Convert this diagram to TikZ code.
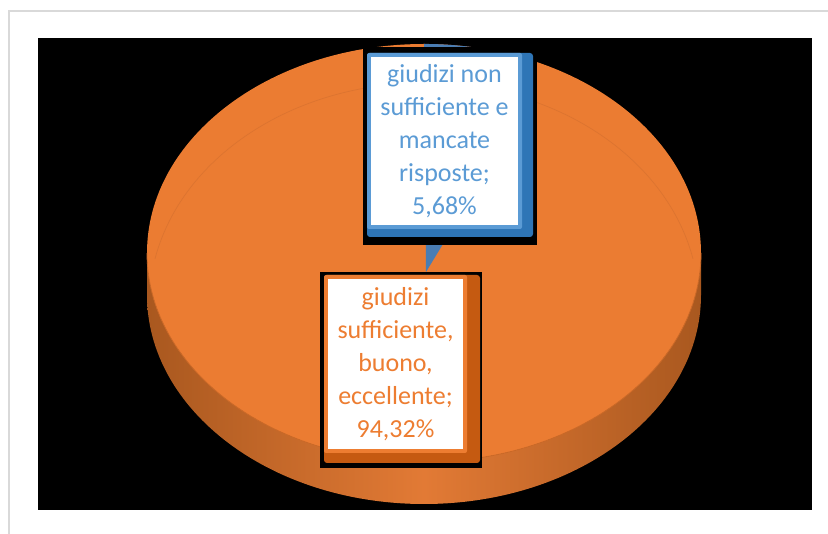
\documentclass[tikz,border=0pt]{standalone}
\usepackage{fontspec}
\setmainfont{Carlito}
\definecolor{framegray}{HTML}{D9D9D9}
\definecolor{pieorange}{HTML}{EB7C32}
\definecolor{sidedark}{HTML}{A9581F}
\definecolor{sidelight}{HTML}{E27A35}
\definecolor{rimcolor}{HTML}{CC6A28}
\definecolor{ringcolor}{HTML}{DC7430}
\definecolor{bluewedge}{HTML}{4A7DB3}
\definecolor{bluedark}{HTML}{2E75B6}
\definecolor{bluelight}{HTML}{5B9BD5}
\definecolor{bluetext}{HTML}{5B9BD5}
\definecolor{orangedark}{HTML}{C55A11}
\definecolor{orangelight}{HTML}{ED7D31}
\definecolor{orangetext}{HTML}{ED7D31}
\begin{document}
\begin{tikzpicture}[x=1pt,y=-1pt,
  labeltext/.style={align=center, inner sep=0pt, fill=white,
    font=\fontsize{26}{33}\selectfont},
  pieside/.style={x radius=277, y radius=209}]
\useasboundingbox (0,0) rectangle (828,534);
\fill[white] (0,0) rectangle (828,534);
\draw[framegray, line width=1.5pt] (9,534) -- (9,11) -- (828,11);
\fill[black] (38,38) rectangle (812,510);
% side of the pie
\shade[left color=sidedark, right color=sidedark, middle color=sidelight]
  (147,253) -- (147,295) arc[start angle=180, end angle=0, pieside]
  -- (701,253) arc[start angle=0, end angle=180, pieside] -- cycle;
% top face
\fill[pieorange] (424,253) ellipse[x radius=277, y radius=209];
\draw[rimcolor, line width=0.8pt] (147,253) arc[start angle=180, end angle=0, pieside];
\begin{scope}
  \clip (424,253) ellipse[x radius=277, y radius=209];
  \draw[ringcolor, line width=0.7pt] (155,258.8) arc[start angle=192, end angle=348, x radius=275, y radius=222];
\end{scope}
% blue slice
\fill[bluewedge] (426,272) -- (443,244) -- (515.1,55.6)
  arc[start angle=289.2, end angle=270, pieside] -- cycle;
% blue label
\fill[black] (363,47) rectangle (537,245);
\fill[bluedark, rounded corners=3pt] (367,53) rectangle (533,237);
\fill[bluelight, rounded corners=2pt] (367,53) rectangle (522,229);
\node[labeltext, text=bluetext, minimum width=147pt, minimum height=168pt]
  (nonsuff) at (444.5,141) {giudizi non\\sufficiente e\\mancate\\risposte;\\5,68\%};
% orange label
\fill[black] (320,272) rectangle (482,468);
\fill[orangedark, rounded corners=3pt] (324,275) rectangle (480,463);
\fill[orangelight, rounded corners=2pt] (324,275) rectangle (467,453);
\node[labeltext, text=orangetext, minimum width=135pt, minimum height=170pt]
  (suff) at (395.5,364) {giudizi\\sufficiente,\\buono,\\eccellente;\\94,32\%};
\end{tikzpicture}
\end{document}
